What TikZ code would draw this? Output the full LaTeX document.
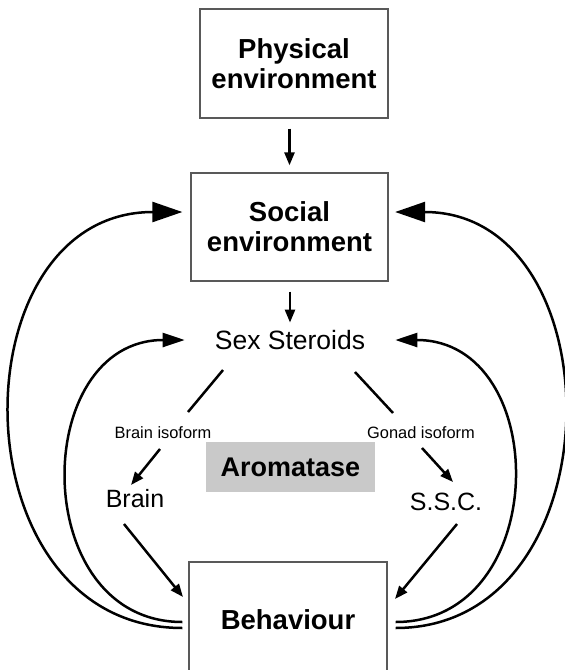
\documentclass[tikz,border=0pt]{standalone}
\usepackage{fontspec}
\setmainfont{Liberation Sans}
\usetikzlibrary{arrows.meta,calc}
\definecolor{boxline}{gray}{0.35}
\definecolor{aromfill}{gray}{0.79}
\begin{document}
\begin{tikzpicture}[x=1pt,y=-1pt,
  box/.style={draw=boxline, line width=1.3pt, align=center, inner sep=0pt,
    font=\bfseries\fontsize{27.5}{30}\selectfont},
  lbl/.style={inner sep=0pt, font=\fontsize{25}{28}\selectfont},
  iso/.style={inner sep=0pt, font=\fontsize{16.4}{18}\selectfont},
  conn/.style={line width=2.5pt},
  arr/.style={conn, -{Triangle[length=13pt,width=10pt]}},
  bigarr/.style={conn, -{Triangle[length=30pt,width=20pt]}},
  midarr/.style={conn, -{Triangle[length=22pt,width=14pt]}}
]
\useasboundingbox (0,0) rectangle (565,670);
\clip (0,0) rectangle (565,670);

% boxes
\node[box, minimum width=188pt, minimum height=109pt] (phys) at (294,63.5) {Physical\\environment};
\node[box, minimum width=197pt, minimum height=108pt] (soc) at (289.5,227) {Social\\environment};
\node[box, minimum width=198pt, minimum height=116pt] (beh) at (288,620) {Behaviour};
\node[fill=aromfill, inner sep=0pt, minimum width=169pt, minimum height=50pt,
  font=\bfseries\fontsize{27}{28}\selectfont] (arom) at (290.5,467) {Aromatase};

% labels
\node[inner sep=0pt, font=\fontsize{26.5}{28}\selectfont] (sex) at (290,340) {Sex Steroids};
\node[lbl] (brain) at (135,499) {Brain};
\node[lbl] (ssc) at (446,502) {S.S.C.};
\node[iso] (biso) at (163,433) {Brain isoform};
\node[iso] (giso) at (421,433) {Gonad isoform};

% connector end points
\coordinate (c1a) at (223,370); \coordinate (c1b) at (188,412);
\coordinate (c2a) at (160,449); \coordinate (c2b) at (131,485);
\coordinate (c3a) at (355,372); \coordinate (c3b) at (393,413);
\coordinate (c4a) at (422,448); \coordinate (c4b) at (453,482);
\coordinate (c5a) at (124,524); \coordinate (c5b) at (183,597);
\coordinate (c6a) at (457,524); \coordinate (c6b) at (395,599);

\coordinate (bLo) at ($(beh.west)+(-6,8)$);
\coordinate (bLi) at ($(beh.west)+(-6,2)$);
\coordinate (bRo) at ($(beh.east)+(8,8)$);
\coordinate (bRi) at ($(beh.east)+(8,2)$);
\coordinate (sLo) at ($(soc.west)+(-8,-15)$);
\coordinate (sRo) at ($(soc.east)+(6.5,-15)$);
\coordinate (xL) at ($(sex.west)+(-30,0)$);
\coordinate (xR) at ($(sex.east)+(30,0)$);

% vertical arrows
\draw[arr, shorten <=10pt, shorten >=7pt] (phys.south -| soc) -- (soc.north);
\draw[arr, shorten <=10pt, shorten >=7.5pt] (soc.south -| sex) -- (sex.north);

% isoform pathways
\draw[conn] (c1a) -- (c1b);
\draw[arr] (c2a) -- (c2b);
\draw[conn] (c3a) -- (c3b);
\draw[arr] (c4a) -- (c4b);
\draw[arr] (c5a) -- (c5b);
\draw[arr] (c6a) -- (c6b);

% feedback arcs
\draw[bigarr] (bLo) .. controls +(-228,0) and +(-228,0) .. (sLo);
\draw[midarr] (bLi) .. controls +(-155,0) and +(-155,0) .. (xL);
\draw[bigarr] (bRo) .. controls +(223,0) and +(223,0) .. (sRo);
\draw[midarr] (bRi) .. controls +(157,0) and +(157,0) .. (xR);
\end{tikzpicture}
\end{document}
